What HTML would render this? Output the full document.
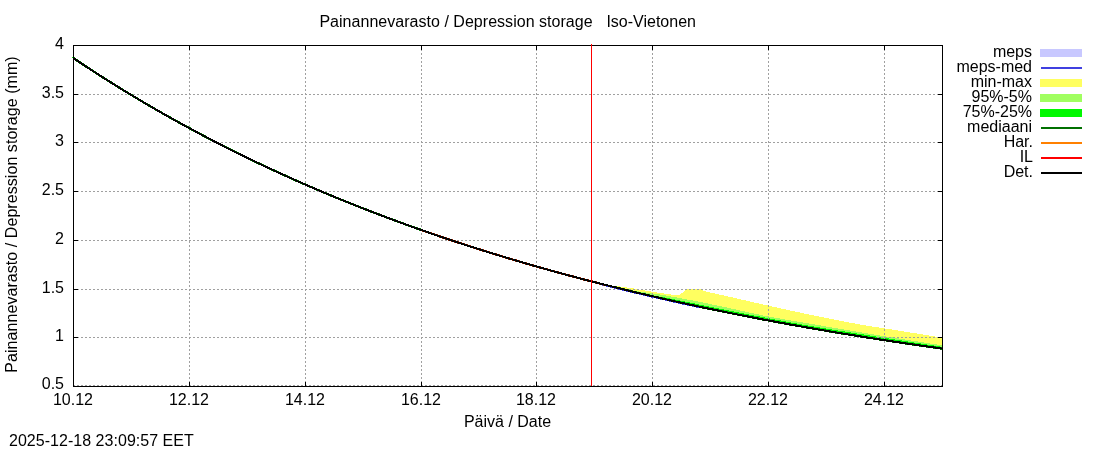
<!DOCTYPE html>
<html><head><meta charset="utf-8"><title>Painannevarasto / Depression storage Iso-Vietonen</title>
<style>html,body{margin:0;padding:0;background:#fff;}svg{display:block}</style></head>
<body><svg width="1100" height="450" viewBox="0 0 1100 450">
<rect width="1100" height="450" fill="#fff"/>
<path d="M600.0,283.57 L601.0,283.82 L602.0,284.08 L603.0,284.33 L604.0,284.58 L605.0,284.83 L606.0,285.03 L607.0,285.12 L608.0,285.22 L609.0,285.32 L610.0,285.42 L611.0,285.53 L612.0,285.64 L613.0,285.75 L614.0,285.86 L615.0,285.97 L616.0,286.09 L617.0,286.20 L618.0,286.32 L619.0,286.44 L620.0,286.56 L621.0,286.69 L622.0,286.81 L623.0,286.94 L624.0,287.07 L625.0,287.20 L626.0,287.33 L627.0,287.47 L628.0,287.62 L629.0,287.77 L630.0,287.92 L631.0,288.08 L632.0,288.24 L633.0,288.40 L634.0,288.57 L635.0,288.74 L636.0,288.91 L637.0,289.09 L638.0,289.27 L639.0,289.44 L640.0,289.62 L641.0,289.80 L642.0,289.98 L643.0,290.16 L644.0,290.34 L645.0,290.51 L646.0,290.69 L647.0,290.86 L648.0,291.04 L649.0,291.21 L650.0,291.37 L651.0,291.54 L652.0,291.70 L653.0,291.86 L654.0,292.02 L655.0,292.19 L656.0,292.35 L657.0,292.52 L658.0,292.68 L659.0,292.84 L660.0,293.00 L661.0,293.15 L662.0,293.30 L663.0,293.44 L664.0,293.57 L665.0,293.70 L666.0,293.83 L667.0,293.96 L668.0,294.09 L669.0,294.23 L670.0,294.36 L671.0,294.49 L672.0,294.61 L673.0,294.71 L674.0,294.81 L675.0,294.89 L676.0,294.95 L677.0,294.99 L678.0,295.00 L679.0,294.85 L680.0,294.44 L681.0,293.83 L682.0,293.09 L683.0,292.27 L684.0,291.46 L685.0,290.70 L686.0,290.06 L687.0,289.60 L688.0,289.40 L689.0,289.34 L690.0,289.30 L691.0,289.26 L692.0,289.23 L693.0,289.21 L694.0,289.20 L695.0,289.20 L696.0,289.21 L697.0,289.22 L698.0,289.24 L699.0,289.27 L700.0,289.30 L701.0,289.58 L702.0,290.12 L703.0,290.60 L704.0,290.93 L705.0,291.22 L706.0,291.50 L707.0,291.75 L708.0,292.00 L709.0,292.24 L710.0,292.46 L711.0,292.67 L712.0,292.88 L713.0,293.08 L714.0,293.30 L715.0,293.52 L716.0,293.75 L717.0,293.97 L718.0,294.20 L719.0,294.43 L720.0,294.66 L721.0,294.89 L722.0,295.12 L723.0,295.35 L724.0,295.58 L725.0,295.80 L726.0,296.02 L727.0,296.24 L728.0,296.46 L729.0,296.68 L730.0,296.90 L731.0,297.12 L732.0,297.35 L733.0,297.57 L734.0,297.80 L735.0,298.03 L736.0,298.25 L737.0,298.48 L738.0,298.71 L739.0,298.94 L740.0,299.17 L741.0,299.40 L742.0,299.63 L743.0,299.86 L744.0,300.09 L745.0,300.32 L746.0,300.56 L747.0,300.79 L748.0,301.02 L749.0,301.25 L750.0,301.48 L751.0,301.72 L752.0,301.95 L753.0,302.18 L754.0,302.41 L755.0,302.64 L756.0,302.87 L757.0,303.10 L758.0,303.33 L759.0,303.56 L760.0,303.79 L761.0,304.02 L762.0,304.25 L763.0,304.48 L764.0,304.70 L765.0,304.93 L766.0,305.15 L767.0,305.38 L768.0,305.60 L769.0,305.82 L770.0,306.05 L771.0,306.27 L772.0,306.49 L773.0,306.71 L774.0,306.94 L775.0,307.16 L776.0,307.38 L777.0,307.60 L778.0,307.82 L779.0,308.04 L780.0,308.26 L781.0,308.49 L782.0,308.71 L783.0,308.93 L784.0,309.14 L785.0,309.36 L786.0,309.58 L787.0,309.80 L788.0,310.02 L789.0,310.23 L790.0,310.45 L791.0,310.67 L792.0,310.88 L793.0,311.10 L794.0,311.31 L795.0,311.52 L796.0,311.74 L797.0,311.95 L798.0,312.16 L799.0,312.37 L800.0,312.58 L801.0,312.79 L802.0,312.99 L803.0,313.20 L804.0,313.41 L805.0,313.61 L806.0,313.82 L807.0,314.03 L808.0,314.23 L809.0,314.44 L810.0,314.65 L811.0,314.85 L812.0,315.06 L813.0,315.27 L814.0,315.47 L815.0,315.68 L816.0,315.89 L817.0,316.09 L818.0,316.30 L819.0,316.50 L820.0,316.71 L821.0,316.91 L822.0,317.12 L823.0,317.32 L824.0,317.53 L825.0,317.73 L826.0,317.94 L827.0,318.14 L828.0,318.34 L829.0,318.55 L830.0,318.75 L831.0,318.95 L832.0,319.15 L833.0,319.35 L834.0,319.55 L835.0,319.75 L836.0,319.95 L837.0,320.15 L838.0,320.35 L839.0,320.54 L840.0,320.74 L841.0,320.94 L842.0,321.13 L843.0,321.33 L844.0,321.52 L845.0,321.71 L846.0,321.90 L847.0,322.09 L848.0,322.29 L849.0,322.47 L850.0,322.66 L851.0,322.85 L852.0,323.04 L853.0,323.22 L854.0,323.41 L855.0,323.59 L856.0,323.77 L857.0,323.95 L858.0,324.13 L859.0,324.31 L860.0,324.49 L861.0,324.67 L862.0,324.84 L863.0,325.02 L864.0,325.19 L865.0,325.36 L866.0,325.53 L867.0,325.70 L868.0,325.87 L869.0,326.03 L870.0,326.20 L871.0,326.36 L872.0,326.52 L873.0,326.67 L874.0,326.82 L875.0,326.97 L876.0,327.11 L877.0,327.26 L878.0,327.40 L879.0,327.55 L880.0,327.70 L881.0,327.85 L882.0,328.00 L883.0,328.16 L884.0,328.31 L885.0,328.47 L886.0,328.62 L887.0,328.78 L888.0,328.93 L889.0,329.09 L890.0,329.25 L891.0,329.40 L892.0,329.56 L893.0,329.72 L894.0,329.87 L895.0,330.03 L896.0,330.19 L897.0,330.35 L898.0,330.51 L899.0,330.66 L900.0,330.82 L901.0,330.98 L902.0,331.14 L903.0,331.30 L904.0,331.46 L905.0,331.62 L906.0,331.78 L907.0,331.94 L908.0,332.11 L909.0,332.27 L910.0,332.43 L911.0,332.59 L912.0,332.75 L913.0,332.92 L914.0,333.08 L915.0,333.24 L916.0,333.41 L917.0,333.57 L918.0,333.74 L919.0,333.90 L920.0,334.07 L921.0,334.23 L922.0,334.40 L923.0,334.56 L924.0,334.73 L925.0,334.90 L926.0,335.06 L927.0,335.23 L928.0,335.40 L929.0,335.57 L930.0,335.74 L931.0,335.91 L932.0,336.08 L933.0,336.25 L934.0,336.42 L935.0,336.59 L936.0,336.76 L937.0,336.93 L938.0,337.11 L939.0,337.28 L940.0,337.45 L941.0,337.63 L942.0,337.80 L942.0,349.57 L941.0,349.43 L940.0,349.29 L939.0,349.15 L938.0,349.01 L937.0,348.87 L936.0,348.73 L935.0,348.59 L934.0,348.45 L933.0,348.31 L932.0,348.17 L931.0,348.03 L930.0,347.89 L929.0,347.75 L928.0,347.61 L927.0,347.46 L926.0,347.32 L925.0,347.18 L924.0,347.04 L923.0,346.89 L922.0,346.75 L921.0,346.61 L920.0,346.46 L919.0,346.32 L918.0,346.17 L917.0,346.03 L916.0,345.88 L915.0,345.74 L914.0,345.59 L913.0,345.45 L912.0,345.30 L911.0,345.16 L910.0,345.01 L909.0,344.86 L908.0,344.72 L907.0,344.57 L906.0,344.42 L905.0,344.27 L904.0,344.13 L903.0,343.98 L902.0,343.83 L901.0,343.68 L900.0,343.53 L899.0,343.38 L898.0,343.23 L897.0,343.08 L896.0,342.93 L895.0,342.78 L894.0,342.63 L893.0,342.48 L892.0,342.33 L891.0,342.18 L890.0,342.03 L889.0,341.88 L888.0,341.72 L887.0,341.57 L886.0,341.42 L885.0,341.27 L884.0,341.11 L883.0,340.96 L882.0,340.81 L881.0,340.65 L880.0,340.50 L879.0,340.34 L878.0,340.19 L877.0,340.03 L876.0,339.88 L875.0,339.72 L874.0,339.57 L873.0,339.41 L872.0,339.25 L871.0,339.10 L870.0,338.94 L869.0,338.78 L868.0,338.63 L867.0,338.47 L866.0,338.31 L865.0,338.15 L864.0,337.99 L863.0,337.83 L862.0,337.67 L861.0,337.52 L860.0,337.36 L859.0,337.20 L858.0,337.04 L857.0,336.87 L856.0,336.71 L855.0,336.55 L854.0,336.39 L853.0,336.23 L852.0,336.07 L851.0,335.91 L850.0,335.74 L849.0,335.58 L848.0,335.42 L847.0,335.25 L846.0,335.09 L845.0,334.93 L844.0,334.76 L843.0,334.60 L842.0,334.43 L841.0,334.27 L840.0,334.10 L839.0,333.94 L838.0,333.77 L837.0,333.60 L836.0,333.44 L835.0,333.27 L834.0,333.10 L833.0,332.94 L832.0,332.77 L831.0,332.60 L830.0,332.43 L829.0,332.26 L828.0,332.09 L827.0,331.92 L826.0,331.75 L825.0,331.58 L824.0,331.41 L823.0,331.24 L822.0,331.07 L821.0,330.90 L820.0,330.73 L819.0,330.56 L818.0,330.39 L817.0,330.22 L816.0,330.04 L815.0,329.87 L814.0,329.70 L813.0,329.52 L812.0,329.35 L811.0,329.18 L810.0,329.00 L809.0,328.83 L808.0,328.65 L807.0,328.48 L806.0,328.30 L805.0,328.12 L804.0,327.95 L803.0,327.77 L802.0,327.59 L801.0,327.42 L800.0,327.24 L799.0,327.06 L798.0,326.88 L797.0,326.71 L796.0,326.53 L795.0,326.35 L794.0,326.17 L793.0,325.99 L792.0,325.81 L791.0,325.63 L790.0,325.45 L789.0,325.27 L788.0,325.08 L787.0,324.90 L786.0,324.72 L785.0,324.54 L784.0,324.36 L783.0,324.17 L782.0,323.99 L781.0,323.81 L780.0,323.62 L779.0,323.44 L778.0,323.25 L777.0,323.07 L776.0,322.88 L775.0,322.70 L774.0,322.51 L773.0,322.33 L772.0,322.14 L771.0,321.95 L770.0,321.77 L769.0,321.58 L768.0,321.39 L767.0,321.20 L766.0,321.01 L765.0,320.83 L764.0,320.64 L763.0,320.45 L762.0,320.26 L761.0,320.07 L760.0,319.88 L759.0,319.69 L758.0,319.49 L757.0,319.30 L756.0,319.11 L755.0,318.92 L754.0,318.73 L753.0,318.53 L752.0,318.34 L751.0,318.15 L750.0,317.95 L749.0,317.76 L748.0,317.56 L747.0,317.37 L746.0,317.17 L745.0,316.98 L744.0,316.78 L743.0,316.58 L742.0,316.39 L741.0,316.19 L740.0,315.99 L739.0,315.80 L738.0,315.60 L737.0,315.40 L736.0,315.20 L735.0,315.00 L734.0,314.80 L733.0,314.60 L732.0,314.40 L731.0,314.20 L730.0,314.00 L729.0,313.80 L728.0,313.60 L727.0,313.40 L726.0,313.19 L725.0,312.99 L724.0,312.79 L723.0,312.58 L722.0,312.38 L721.0,312.18 L720.0,311.97 L719.0,311.77 L718.0,311.56 L717.0,311.36 L716.0,311.15 L715.0,310.94 L714.0,310.74 L713.0,310.53 L712.0,310.32 L711.0,310.11 L710.0,309.91 L709.0,309.70 L708.0,309.49 L707.0,309.28 L706.0,309.07 L705.0,308.86 L704.0,308.65 L703.0,308.44 L702.0,308.23 L701.0,308.02 L700.0,307.80 L699.0,307.59 L698.0,307.38 L697.0,307.16 L696.0,306.95 L695.0,306.74 L694.0,306.52 L693.0,306.31 L692.0,306.09 L691.0,305.88 L690.0,305.66 L689.0,305.45 L688.0,305.23 L687.0,305.01 L686.0,304.80 L685.0,304.58 L684.0,304.36 L683.0,304.14 L682.0,303.92 L681.0,303.70 L680.0,303.48 L679.0,303.26 L678.0,303.04 L677.0,302.82 L676.0,302.60 L675.0,302.38 L674.0,302.16 L673.0,301.93 L672.0,301.71 L671.0,301.49 L670.0,301.27 L669.0,301.04 L668.0,300.82 L667.0,300.59 L666.0,300.37 L665.0,300.14 L664.0,299.91 L663.0,299.69 L662.0,299.46 L661.0,299.23 L660.0,299.01 L659.0,298.78 L658.0,298.55 L657.0,298.32 L656.0,298.09 L655.0,297.86 L654.0,297.63 L653.0,297.40 L652.0,297.17 L651.0,296.94 L650.0,296.71 L649.0,296.48 L648.0,296.24 L647.0,296.01 L646.0,295.78 L645.0,295.54 L644.0,295.31 L643.0,295.07 L642.0,294.84 L641.0,294.60 L640.0,294.37 L639.0,294.13 L638.0,293.89 L637.0,293.66 L636.0,293.42 L635.0,293.18 L634.0,292.94 L633.0,292.70 L632.0,292.46 L631.0,292.22 L630.0,291.98 L629.0,291.74 L628.0,291.50 L627.0,291.26 L626.0,291.02 L625.0,290.78 L624.0,290.53 L623.0,290.29 L622.0,290.05 L621.0,289.80 L620.0,289.56 L619.0,289.31 L618.0,289.07 L617.0,288.82 L616.0,288.57 L615.0,288.33 L614.0,288.08 L613.0,287.83 L612.0,287.58 L611.0,287.34 L610.0,287.09 L609.0,286.84 L608.0,286.59 L607.0,286.34 L606.0,286.09 L605.0,285.83 L604.0,285.58 L603.0,285.33 L602.0,285.08 L601.0,284.82 L600.0,284.57Z" fill="#ffff60" shape-rendering="crispEdges"/><path d="M620.0,288.56 L621.0,288.80 L622.0,289.05 L623.0,289.29 L624.0,289.53 L625.0,289.78 L626.0,290.02 L627.0,290.19 L628.0,290.30 L629.0,290.41 L630.0,290.52 L631.0,290.63 L632.0,290.74 L633.0,290.85 L634.0,290.97 L635.0,291.09 L636.0,291.21 L637.0,291.33 L638.0,291.45 L639.0,291.57 L640.0,291.70 L641.0,291.82 L642.0,291.95 L643.0,292.08 L644.0,292.21 L645.0,292.34 L646.0,292.47 L647.0,292.61 L648.0,292.74 L649.0,292.88 L650.0,293.02 L651.0,293.16 L652.0,293.30 L653.0,293.44 L654.0,293.59 L655.0,293.74 L656.0,293.89 L657.0,294.04 L658.0,294.20 L659.0,294.36 L660.0,294.52 L661.0,294.68 L662.0,294.85 L663.0,295.01 L664.0,295.18 L665.0,295.35 L666.0,295.53 L667.0,295.70 L668.0,295.88 L669.0,296.06 L670.0,296.24 L671.0,296.42 L672.0,296.60 L673.0,296.79 L674.0,296.97 L675.0,297.16 L676.0,297.34 L677.0,297.53 L678.0,297.72 L679.0,297.91 L680.0,298.10 L681.0,298.29 L682.0,298.48 L683.0,298.67 L684.0,298.86 L685.0,299.05 L686.0,299.24 L687.0,299.43 L688.0,299.62 L689.0,299.81 L690.0,300.00 L691.0,300.19 L692.0,300.38 L693.0,300.58 L694.0,300.77 L695.0,300.96 L696.0,301.16 L697.0,301.36 L698.0,301.56 L699.0,301.76 L700.0,301.96 L701.0,302.16 L702.0,302.36 L703.0,302.57 L704.0,302.77 L705.0,302.98 L706.0,303.18 L707.0,303.39 L708.0,303.60 L709.0,303.80 L710.0,304.01 L711.0,304.22 L712.0,304.43 L713.0,304.64 L714.0,304.85 L715.0,305.06 L716.0,305.27 L717.0,305.48 L718.0,305.69 L719.0,305.90 L720.0,306.11 L721.0,306.32 L722.0,306.54 L723.0,306.75 L724.0,306.96 L725.0,307.17 L726.0,307.38 L727.0,307.59 L728.0,307.80 L729.0,308.01 L730.0,308.22 L731.0,308.44 L732.0,308.65 L733.0,308.87 L734.0,309.09 L735.0,309.30 L736.0,309.52 L737.0,309.74 L738.0,309.96 L739.0,310.19 L740.0,310.41 L741.0,310.63 L742.0,310.85 L743.0,311.08 L744.0,311.30 L745.0,311.52 L746.0,311.74 L747.0,311.97 L748.0,312.19 L749.0,312.41 L750.0,312.63 L751.0,312.85 L752.0,313.07 L753.0,313.29 L754.0,313.51 L755.0,313.73 L756.0,313.94 L757.0,314.16 L758.0,314.37 L759.0,314.58 L760.0,314.79 L761.0,315.00 L762.0,315.21 L763.0,315.41 L764.0,315.61 L765.0,315.81 L766.0,316.01 L767.0,316.21 L768.0,316.40 L769.0,316.59 L770.0,316.78 L771.0,316.97 L772.0,317.15 L773.0,317.34 L774.0,317.52 L775.0,317.70 L776.0,317.88 L777.0,318.06 L778.0,318.24 L779.0,318.42 L780.0,318.59 L781.0,318.77 L782.0,318.94 L783.0,319.11 L784.0,319.28 L785.0,319.45 L786.0,319.62 L787.0,319.79 L788.0,319.96 L789.0,320.13 L790.0,320.30 L791.0,320.47 L792.0,320.64 L793.0,320.81 L794.0,320.98 L795.0,321.14 L796.0,321.31 L797.0,321.48 L798.0,321.65 L799.0,321.82 L800.0,321.99 L801.0,322.16 L802.0,322.33 L803.0,322.50 L804.0,322.67 L805.0,322.84 L806.0,323.01 L807.0,323.19 L808.0,323.36 L809.0,323.53 L810.0,323.70 L811.0,323.87 L812.0,324.04 L813.0,324.21 L814.0,324.39 L815.0,324.56 L816.0,324.73 L817.0,324.90 L818.0,325.07 L819.0,325.24 L820.0,325.41 L821.0,325.58 L822.0,325.75 L823.0,325.92 L824.0,326.09 L825.0,326.27 L826.0,326.44 L827.0,326.61 L828.0,326.78 L829.0,326.95 L830.0,327.12 L831.0,327.29 L832.0,327.46 L833.0,327.63 L834.0,327.80 L835.0,327.97 L836.0,328.14 L837.0,328.31 L838.0,328.47 L839.0,328.64 L840.0,328.81 L841.0,328.98 L842.0,329.15 L843.0,329.32 L844.0,329.49 L845.0,329.66 L846.0,329.83 L847.0,329.99 L848.0,330.16 L849.0,330.33 L850.0,330.50 L851.0,330.67 L852.0,330.83 L853.0,331.00 L854.0,331.17 L855.0,331.34 L856.0,331.50 L857.0,331.67 L858.0,331.84 L859.0,332.01 L860.0,332.17 L861.0,332.34 L862.0,332.51 L863.0,332.67 L864.0,332.84 L865.0,333.00 L866.0,333.17 L867.0,333.34 L868.0,333.50 L869.0,333.67 L870.0,333.83 L871.0,334.00 L872.0,334.16 L873.0,334.33 L874.0,334.49 L875.0,334.65 L876.0,334.82 L877.0,334.98 L878.0,335.15 L879.0,335.31 L880.0,335.47 L881.0,335.64 L882.0,335.80 L883.0,335.96 L884.0,336.13 L885.0,336.29 L886.0,336.45 L887.0,336.61 L888.0,336.77 L889.0,336.94 L890.0,337.10 L891.0,337.26 L892.0,337.42 L893.0,337.58 L894.0,337.74 L895.0,337.90 L896.0,338.07 L897.0,338.23 L898.0,338.39 L899.0,338.55 L900.0,338.71 L901.0,338.87 L902.0,339.03 L903.0,339.19 L904.0,339.35 L905.0,339.51 L906.0,339.66 L907.0,339.82 L908.0,339.98 L909.0,340.14 L910.0,340.30 L911.0,340.46 L912.0,340.62 L913.0,340.78 L914.0,340.93 L915.0,341.09 L916.0,341.25 L917.0,341.41 L918.0,341.56 L919.0,341.72 L920.0,341.88 L921.0,342.04 L922.0,342.19 L923.0,342.35 L924.0,342.51 L925.0,342.66 L926.0,342.82 L927.0,342.97 L928.0,343.13 L929.0,343.29 L930.0,343.44 L931.0,343.60 L932.0,343.75 L933.0,343.91 L934.0,344.06 L935.0,344.22 L936.0,344.37 L937.0,344.53 L938.0,344.68 L939.0,344.84 L940.0,344.99 L941.0,345.15 L942.0,345.30 L942.0,349.57 L941.0,349.43 L940.0,349.29 L939.0,349.15 L938.0,349.01 L937.0,348.87 L936.0,348.73 L935.0,348.59 L934.0,348.45 L933.0,348.31 L932.0,348.17 L931.0,348.03 L930.0,347.89 L929.0,347.75 L928.0,347.61 L927.0,347.46 L926.0,347.32 L925.0,347.18 L924.0,347.04 L923.0,346.89 L922.0,346.75 L921.0,346.61 L920.0,346.46 L919.0,346.32 L918.0,346.17 L917.0,346.03 L916.0,345.88 L915.0,345.74 L914.0,345.59 L913.0,345.45 L912.0,345.30 L911.0,345.16 L910.0,345.01 L909.0,344.86 L908.0,344.72 L907.0,344.57 L906.0,344.42 L905.0,344.27 L904.0,344.13 L903.0,343.98 L902.0,343.83 L901.0,343.68 L900.0,343.53 L899.0,343.38 L898.0,343.23 L897.0,343.08 L896.0,342.93 L895.0,342.78 L894.0,342.63 L893.0,342.48 L892.0,342.33 L891.0,342.18 L890.0,342.03 L889.0,341.88 L888.0,341.72 L887.0,341.57 L886.0,341.42 L885.0,341.27 L884.0,341.11 L883.0,340.96 L882.0,340.81 L881.0,340.65 L880.0,340.50 L879.0,340.34 L878.0,340.19 L877.0,340.03 L876.0,339.88 L875.0,339.72 L874.0,339.57 L873.0,339.41 L872.0,339.25 L871.0,339.10 L870.0,338.94 L869.0,338.78 L868.0,338.63 L867.0,338.47 L866.0,338.31 L865.0,338.15 L864.0,337.99 L863.0,337.83 L862.0,337.67 L861.0,337.52 L860.0,337.36 L859.0,337.20 L858.0,337.04 L857.0,336.87 L856.0,336.71 L855.0,336.55 L854.0,336.39 L853.0,336.23 L852.0,336.07 L851.0,335.91 L850.0,335.74 L849.0,335.58 L848.0,335.42 L847.0,335.25 L846.0,335.09 L845.0,334.93 L844.0,334.76 L843.0,334.60 L842.0,334.43 L841.0,334.27 L840.0,334.10 L839.0,333.94 L838.0,333.77 L837.0,333.60 L836.0,333.44 L835.0,333.27 L834.0,333.10 L833.0,332.94 L832.0,332.77 L831.0,332.60 L830.0,332.43 L829.0,332.26 L828.0,332.09 L827.0,331.92 L826.0,331.75 L825.0,331.58 L824.0,331.41 L823.0,331.24 L822.0,331.07 L821.0,330.90 L820.0,330.73 L819.0,330.56 L818.0,330.39 L817.0,330.22 L816.0,330.04 L815.0,329.87 L814.0,329.70 L813.0,329.52 L812.0,329.35 L811.0,329.18 L810.0,329.00 L809.0,328.83 L808.0,328.65 L807.0,328.48 L806.0,328.30 L805.0,328.12 L804.0,327.95 L803.0,327.77 L802.0,327.59 L801.0,327.42 L800.0,327.24 L799.0,327.06 L798.0,326.88 L797.0,326.71 L796.0,326.53 L795.0,326.35 L794.0,326.17 L793.0,325.99 L792.0,325.81 L791.0,325.63 L790.0,325.45 L789.0,325.27 L788.0,325.08 L787.0,324.90 L786.0,324.72 L785.0,324.54 L784.0,324.36 L783.0,324.17 L782.0,323.99 L781.0,323.81 L780.0,323.62 L779.0,323.44 L778.0,323.25 L777.0,323.07 L776.0,322.88 L775.0,322.70 L774.0,322.51 L773.0,322.33 L772.0,322.14 L771.0,321.95 L770.0,321.77 L769.0,321.58 L768.0,321.39 L767.0,321.20 L766.0,321.01 L765.0,320.83 L764.0,320.64 L763.0,320.45 L762.0,320.26 L761.0,320.07 L760.0,319.88 L759.0,319.69 L758.0,319.49 L757.0,319.30 L756.0,319.11 L755.0,318.92 L754.0,318.73 L753.0,318.53 L752.0,318.34 L751.0,318.15 L750.0,317.95 L749.0,317.76 L748.0,317.56 L747.0,317.37 L746.0,317.17 L745.0,316.98 L744.0,316.78 L743.0,316.58 L742.0,316.39 L741.0,316.19 L740.0,315.99 L739.0,315.80 L738.0,315.60 L737.0,315.40 L736.0,315.20 L735.0,315.00 L734.0,314.80 L733.0,314.60 L732.0,314.40 L731.0,314.20 L730.0,314.00 L729.0,313.80 L728.0,313.60 L727.0,313.40 L726.0,313.19 L725.0,312.99 L724.0,312.79 L723.0,312.58 L722.0,312.38 L721.0,312.18 L720.0,311.97 L719.0,311.77 L718.0,311.56 L717.0,311.36 L716.0,311.15 L715.0,310.94 L714.0,310.74 L713.0,310.53 L712.0,310.32 L711.0,310.11 L710.0,309.91 L709.0,309.70 L708.0,309.49 L707.0,309.28 L706.0,309.07 L705.0,308.86 L704.0,308.65 L703.0,308.44 L702.0,308.23 L701.0,308.02 L700.0,307.80 L699.0,307.59 L698.0,307.38 L697.0,307.16 L696.0,306.95 L695.0,306.74 L694.0,306.52 L693.0,306.31 L692.0,306.09 L691.0,305.88 L690.0,305.66 L689.0,305.45 L688.0,305.23 L687.0,305.01 L686.0,304.80 L685.0,304.58 L684.0,304.36 L683.0,304.14 L682.0,303.92 L681.0,303.70 L680.0,303.48 L679.0,303.26 L678.0,303.04 L677.0,302.82 L676.0,302.60 L675.0,302.38 L674.0,302.16 L673.0,301.93 L672.0,301.71 L671.0,301.49 L670.0,301.27 L669.0,301.04 L668.0,300.82 L667.0,300.59 L666.0,300.37 L665.0,300.14 L664.0,299.91 L663.0,299.69 L662.0,299.46 L661.0,299.23 L660.0,299.01 L659.0,298.78 L658.0,298.55 L657.0,298.32 L656.0,298.09 L655.0,297.86 L654.0,297.63 L653.0,297.40 L652.0,297.17 L651.0,296.94 L650.0,296.71 L649.0,296.48 L648.0,296.24 L647.0,296.01 L646.0,295.78 L645.0,295.54 L644.0,295.31 L643.0,295.07 L642.0,294.84 L641.0,294.60 L640.0,294.37 L639.0,294.13 L638.0,293.89 L637.0,293.66 L636.0,293.42 L635.0,293.18 L634.0,292.94 L633.0,292.70 L632.0,292.46 L631.0,292.22 L630.0,291.98 L629.0,291.74 L628.0,291.50 L627.0,291.26 L626.0,291.02 L625.0,290.78 L624.0,290.53 L623.0,290.29 L622.0,290.05 L621.0,289.80 L620.0,289.56Z" fill="#a0ff60" shape-rendering="crispEdges"/><path d="M640.0,293.20 L641.0,293.36 L642.0,293.53 L643.0,293.69 L644.0,293.85 L645.0,294.02 L646.0,294.18 L647.0,294.35 L648.0,294.51 L649.0,294.68 L650.0,294.85 L651.0,295.02 L652.0,295.19 L653.0,295.36 L654.0,295.53 L655.0,295.71 L656.0,295.88 L657.0,296.06 L658.0,296.24 L659.0,296.42 L660.0,296.60 L661.0,296.78 L662.0,296.97 L663.0,297.15 L664.0,297.34 L665.0,297.53 L666.0,297.72 L667.0,297.91 L668.0,298.10 L669.0,298.29 L670.0,298.49 L671.0,298.68 L672.0,298.88 L673.0,299.08 L674.0,299.28 L675.0,299.48 L676.0,299.68 L677.0,299.88 L678.0,300.08 L679.0,300.28 L680.0,300.49 L681.0,300.69 L682.0,300.89 L683.0,301.10 L684.0,301.31 L685.0,301.51 L686.0,301.72 L687.0,301.93 L688.0,302.13 L689.0,302.34 L690.0,302.55 L691.0,302.76 L692.0,302.97 L693.0,303.18 L694.0,303.39 L695.0,303.60 L696.0,303.81 L697.0,304.02 L698.0,304.23 L699.0,304.44 L700.0,304.65 L701.0,304.86 L702.0,305.07 L703.0,305.28 L704.0,305.49 L705.0,305.70 L706.0,305.91 L707.0,306.12 L708.0,306.33 L709.0,306.54 L710.0,306.75 L711.0,306.95 L712.0,307.16 L713.0,307.37 L714.0,307.58 L715.0,307.78 L716.0,307.99 L717.0,308.19 L718.0,308.40 L719.0,308.60 L720.0,308.80 L721.0,309.00 L722.0,309.20 L723.0,309.40 L724.0,309.60 L725.0,309.80 L726.0,310.00 L727.0,310.19 L728.0,310.39 L729.0,310.59 L730.0,310.78 L731.0,310.98 L732.0,311.18 L733.0,311.37 L734.0,311.57 L735.0,311.76 L736.0,311.96 L737.0,312.15 L738.0,312.35 L739.0,312.54 L740.0,312.74 L741.0,312.93 L742.0,313.13 L743.0,313.32 L744.0,313.51 L745.0,313.71 L746.0,313.90 L747.0,314.09 L748.0,314.28 L749.0,314.48 L750.0,314.67 L751.0,314.86 L752.0,315.05 L753.0,315.24 L754.0,315.44 L755.0,315.63 L756.0,315.82 L757.0,316.01 L758.0,316.20 L759.0,316.39 L760.0,316.58 L761.0,316.77 L762.0,316.96 L763.0,317.15 L764.0,317.34 L765.0,317.53 L766.0,317.72 L767.0,317.91 L768.0,318.10 L769.0,318.29 L770.0,318.48 L771.0,318.67 L772.0,318.86 L773.0,319.05 L774.0,319.24 L775.0,319.43 L776.0,319.62 L777.0,319.81 L778.0,320.00 L779.0,320.19 L780.0,320.38 L781.0,320.57 L782.0,320.75 L783.0,320.94 L784.0,321.13 L785.0,321.32 L786.0,321.51 L787.0,321.69 L788.0,321.88 L789.0,322.07 L790.0,322.25 L791.0,322.44 L792.0,322.62 L793.0,322.81 L794.0,322.99 L795.0,323.17 L796.0,323.35 L797.0,323.53 L798.0,323.71 L799.0,323.89 L800.0,324.07 L801.0,324.25 L802.0,324.42 L803.0,324.60 L804.0,324.77 L805.0,324.95 L806.0,325.12 L807.0,325.29 L808.0,325.47 L809.0,325.64 L810.0,325.81 L811.0,325.98 L812.0,326.15 L813.0,326.32 L814.0,326.49 L815.0,326.66 L816.0,326.83 L817.0,326.99 L818.0,327.16 L819.0,327.33 L820.0,327.49 L821.0,327.66 L822.0,327.83 L823.0,327.99 L824.0,328.16 L825.0,328.32 L826.0,328.49 L827.0,328.65 L828.0,328.81 L829.0,328.98 L830.0,329.14 L831.0,329.30 L832.0,329.46 L833.0,329.63 L834.0,329.79 L835.0,329.95 L836.0,330.11 L837.0,330.27 L838.0,330.43 L839.0,330.59 L840.0,330.75 L841.0,330.91 L842.0,331.07 L843.0,331.23 L844.0,331.39 L845.0,331.55 L846.0,331.71 L847.0,331.87 L848.0,332.03 L849.0,332.19 L850.0,332.34 L851.0,332.50 L852.0,332.66 L853.0,332.82 L854.0,332.98 L855.0,333.13 L856.0,333.29 L857.0,333.45 L858.0,333.61 L859.0,333.77 L860.0,333.92 L861.0,334.08 L862.0,334.24 L863.0,334.40 L864.0,334.55 L865.0,334.71 L866.0,334.87 L867.0,335.03 L868.0,335.18 L869.0,335.34 L870.0,335.50 L871.0,335.66 L872.0,335.82 L873.0,335.97 L874.0,336.13 L875.0,336.29 L876.0,336.45 L877.0,336.61 L878.0,336.76 L879.0,336.92 L880.0,337.08 L881.0,337.24 L882.0,337.40 L883.0,337.56 L884.0,337.72 L885.0,337.88 L886.0,338.04 L887.0,338.19 L888.0,338.35 L889.0,338.51 L890.0,338.67 L891.0,338.83 L892.0,338.99 L893.0,339.15 L894.0,339.30 L895.0,339.46 L896.0,339.62 L897.0,339.78 L898.0,339.94 L899.0,340.09 L900.0,340.25 L901.0,340.41 L902.0,340.57 L903.0,340.72 L904.0,340.88 L905.0,341.04 L906.0,341.20 L907.0,341.35 L908.0,341.51 L909.0,341.67 L910.0,341.82 L911.0,341.98 L912.0,342.14 L913.0,342.29 L914.0,342.45 L915.0,342.61 L916.0,342.76 L917.0,342.92 L918.0,343.07 L919.0,343.23 L920.0,343.39 L921.0,343.54 L922.0,343.70 L923.0,343.85 L924.0,344.01 L925.0,344.17 L926.0,344.32 L927.0,344.48 L928.0,344.63 L929.0,344.79 L930.0,344.94 L931.0,345.10 L932.0,345.25 L933.0,345.41 L934.0,345.56 L935.0,345.72 L936.0,345.87 L937.0,346.03 L938.0,346.18 L939.0,346.34 L940.0,346.49 L941.0,346.65 L942.0,346.80 L942.0,349.57 L941.0,349.43 L940.0,349.29 L939.0,349.15 L938.0,349.01 L937.0,348.87 L936.0,348.73 L935.0,348.59 L934.0,348.45 L933.0,348.31 L932.0,348.17 L931.0,348.03 L930.0,347.89 L929.0,347.75 L928.0,347.61 L927.0,347.46 L926.0,347.32 L925.0,347.18 L924.0,347.04 L923.0,346.89 L922.0,346.75 L921.0,346.61 L920.0,346.46 L919.0,346.32 L918.0,346.17 L917.0,346.03 L916.0,345.88 L915.0,345.74 L914.0,345.59 L913.0,345.45 L912.0,345.30 L911.0,345.16 L910.0,345.01 L909.0,344.86 L908.0,344.72 L907.0,344.57 L906.0,344.42 L905.0,344.27 L904.0,344.13 L903.0,343.98 L902.0,343.83 L901.0,343.68 L900.0,343.53 L899.0,343.38 L898.0,343.23 L897.0,343.08 L896.0,342.93 L895.0,342.78 L894.0,342.63 L893.0,342.48 L892.0,342.33 L891.0,342.18 L890.0,342.03 L889.0,341.88 L888.0,341.72 L887.0,341.57 L886.0,341.42 L885.0,341.27 L884.0,341.11 L883.0,340.96 L882.0,340.81 L881.0,340.65 L880.0,340.50 L879.0,340.34 L878.0,340.19 L877.0,340.03 L876.0,339.88 L875.0,339.72 L874.0,339.57 L873.0,339.41 L872.0,339.25 L871.0,339.10 L870.0,338.94 L869.0,338.78 L868.0,338.63 L867.0,338.47 L866.0,338.31 L865.0,338.15 L864.0,337.99 L863.0,337.83 L862.0,337.67 L861.0,337.52 L860.0,337.36 L859.0,337.20 L858.0,337.04 L857.0,336.87 L856.0,336.71 L855.0,336.55 L854.0,336.39 L853.0,336.23 L852.0,336.07 L851.0,335.91 L850.0,335.74 L849.0,335.58 L848.0,335.42 L847.0,335.25 L846.0,335.09 L845.0,334.93 L844.0,334.76 L843.0,334.60 L842.0,334.43 L841.0,334.27 L840.0,334.10 L839.0,333.94 L838.0,333.77 L837.0,333.60 L836.0,333.44 L835.0,333.27 L834.0,333.10 L833.0,332.94 L832.0,332.77 L831.0,332.60 L830.0,332.43 L829.0,332.26 L828.0,332.09 L827.0,331.92 L826.0,331.75 L825.0,331.58 L824.0,331.41 L823.0,331.24 L822.0,331.07 L821.0,330.90 L820.0,330.73 L819.0,330.56 L818.0,330.39 L817.0,330.22 L816.0,330.04 L815.0,329.87 L814.0,329.70 L813.0,329.52 L812.0,329.35 L811.0,329.18 L810.0,329.00 L809.0,328.83 L808.0,328.65 L807.0,328.48 L806.0,328.30 L805.0,328.12 L804.0,327.95 L803.0,327.77 L802.0,327.59 L801.0,327.42 L800.0,327.24 L799.0,327.06 L798.0,326.88 L797.0,326.71 L796.0,326.53 L795.0,326.35 L794.0,326.17 L793.0,325.99 L792.0,325.81 L791.0,325.63 L790.0,325.45 L789.0,325.27 L788.0,325.08 L787.0,324.90 L786.0,324.72 L785.0,324.54 L784.0,324.36 L783.0,324.17 L782.0,323.99 L781.0,323.81 L780.0,323.62 L779.0,323.44 L778.0,323.25 L777.0,323.07 L776.0,322.88 L775.0,322.70 L774.0,322.51 L773.0,322.33 L772.0,322.14 L771.0,321.95 L770.0,321.77 L769.0,321.58 L768.0,321.39 L767.0,321.20 L766.0,321.01 L765.0,320.83 L764.0,320.64 L763.0,320.45 L762.0,320.26 L761.0,320.07 L760.0,319.88 L759.0,319.69 L758.0,319.49 L757.0,319.30 L756.0,319.11 L755.0,318.92 L754.0,318.73 L753.0,318.53 L752.0,318.34 L751.0,318.15 L750.0,317.95 L749.0,317.76 L748.0,317.56 L747.0,317.37 L746.0,317.17 L745.0,316.98 L744.0,316.78 L743.0,316.58 L742.0,316.39 L741.0,316.19 L740.0,315.99 L739.0,315.80 L738.0,315.60 L737.0,315.40 L736.0,315.20 L735.0,315.00 L734.0,314.80 L733.0,314.60 L732.0,314.40 L731.0,314.20 L730.0,314.00 L729.0,313.80 L728.0,313.60 L727.0,313.40 L726.0,313.19 L725.0,312.99 L724.0,312.79 L723.0,312.58 L722.0,312.38 L721.0,312.18 L720.0,311.97 L719.0,311.77 L718.0,311.56 L717.0,311.36 L716.0,311.15 L715.0,310.94 L714.0,310.74 L713.0,310.53 L712.0,310.32 L711.0,310.11 L710.0,309.91 L709.0,309.70 L708.0,309.49 L707.0,309.28 L706.0,309.07 L705.0,308.86 L704.0,308.65 L703.0,308.44 L702.0,308.23 L701.0,308.02 L700.0,307.80 L699.0,307.59 L698.0,307.38 L697.0,307.16 L696.0,306.95 L695.0,306.74 L694.0,306.52 L693.0,306.31 L692.0,306.09 L691.0,305.88 L690.0,305.66 L689.0,305.45 L688.0,305.23 L687.0,305.01 L686.0,304.80 L685.0,304.58 L684.0,304.36 L683.0,304.14 L682.0,303.92 L681.0,303.70 L680.0,303.48 L679.0,303.26 L678.0,303.04 L677.0,302.82 L676.0,302.60 L675.0,302.38 L674.0,302.16 L673.0,301.93 L672.0,301.71 L671.0,301.49 L670.0,301.27 L669.0,301.04 L668.0,300.82 L667.0,300.59 L666.0,300.37 L665.0,300.14 L664.0,299.91 L663.0,299.69 L662.0,299.46 L661.0,299.23 L660.0,299.01 L659.0,298.78 L658.0,298.55 L657.0,298.32 L656.0,298.09 L655.0,297.86 L654.0,297.63 L653.0,297.40 L652.0,297.17 L651.0,296.94 L650.0,296.71 L649.0,296.48 L648.0,296.24 L647.0,296.01 L646.0,295.78 L645.0,295.54 L644.0,295.31 L643.0,295.07 L642.0,294.84 L641.0,294.60 L640.0,294.37Z" fill="#00f800" shape-rendering="crispEdges"/>
<g stroke="#a0a0a0" stroke-width="1" stroke-dasharray="2 2" shape-rendering="crispEdges"><line x1="73" y1="94.5" x2="942" y2="94.5"/><line x1="73" y1="142.5" x2="942" y2="142.5"/><line x1="73" y1="191.5" x2="942" y2="191.5"/><line x1="73" y1="240.5" x2="942" y2="240.5"/><line x1="73" y1="289.5" x2="942" y2="289.5"/><line x1="73" y1="337.5" x2="942" y2="337.5"/><line x1="73" y1="385.5" x2="942" y2="385.5"/><line x1="189.5" y1="45" x2="189.5" y2="387"/><line x1="305.5" y1="45" x2="305.5" y2="387"/><line x1="421.5" y1="45" x2="421.5" y2="387"/><line x1="536.5" y1="45" x2="536.5" y2="387"/><line x1="652.5" y1="45" x2="652.5" y2="387"/><line x1="768.5" y1="45" x2="768.5" y2="387"/><line x1="884.5" y1="45" x2="884.5" y2="387"/></g>
<g fill="none" stroke-linejoin="round" shape-rendering="crispEdges">
<path d="M73.0,57.81 L74.0,58.48 L75.0,59.15 L76.0,59.82 L77.0,60.49 L78.0,61.16 L79.0,61.83 L80.0,62.49 L81.0,63.16 L82.0,63.82 L83.0,64.48 L84.0,65.14 L85.0,65.80 L86.0,66.46 L87.0,67.12 L88.0,67.78 L89.0,68.43 L90.0,69.08 L91.0,69.73 L92.0,70.39 L93.0,71.04 L94.0,71.68 L95.0,72.33 L96.0,72.98 L97.0,73.62 L98.0,74.26 L99.0,74.91 L100.0,75.55 L101.0,76.19 L102.0,76.83 L103.0,77.46 L104.0,78.10 L105.0,78.73 L106.0,79.37 L107.0,80.00 L108.0,80.63 L109.0,81.26 L110.0,81.89 L111.0,82.52 L112.0,83.15 L113.0,83.77 L114.0,84.39 L115.0,85.02 L116.0,85.64 L117.0,86.26 L118.0,86.88 L119.0,87.50 L120.0,88.12 L121.0,88.73 L122.0,89.35 L123.0,89.96 L124.0,90.57 L125.0,91.18 L126.0,91.79 L127.0,92.40 L128.0,93.01 L129.0,93.62 L130.0,94.22 L131.0,94.83 L132.0,95.43 L133.0,96.03 L134.0,96.63 L135.0,97.23 L136.0,97.83 L137.0,98.43 L138.0,99.03 L139.0,99.62 L140.0,100.22 L141.0,100.81 L142.0,101.40 L143.0,101.99 L144.0,102.58 L145.0,103.17 L146.0,103.76 L147.0,104.34 L148.0,104.93 L149.0,105.51 L150.0,106.10 L151.0,106.68 L152.0,107.26 L153.0,107.84 L154.0,108.42 L155.0,108.99 L156.0,109.57 L157.0,110.15 L158.0,110.72 L159.0,111.29 L160.0,111.87 L161.0,112.44 L162.0,113.01 L163.0,113.58 L164.0,114.14 L165.0,114.71 L166.0,115.28 L167.0,115.84 L168.0,116.40 L169.0,116.97 L170.0,117.53 L171.0,118.09 L172.0,118.65 L173.0,119.21 L174.0,119.76 L175.0,120.32 L176.0,120.87 L177.0,121.43 L178.0,121.98 L179.0,122.53 L180.0,123.09 L181.0,123.63 L182.0,124.18 L183.0,124.73 L184.0,125.28 L185.0,125.82 L186.0,126.37 L187.0,126.91 L188.0,127.46 L189.0,128.00 L190.0,128.54 L191.0,129.08 L192.0,129.62 L193.0,130.15 L194.0,130.69 L195.0,131.23 L196.0,131.76 L197.0,132.29 L198.0,132.83 L199.0,133.36 L200.0,133.89 L201.0,134.42 L202.0,134.95 L203.0,135.48 L204.0,136.00 L205.0,136.53 L206.0,137.05 L207.0,137.58 L208.0,138.10 L209.0,138.62 L210.0,139.14 L211.0,139.66 L212.0,140.18 L213.0,140.70 L214.0,141.21 L215.0,141.73 L216.0,142.25 L217.0,142.76 L218.0,143.27 L219.0,143.78 L220.0,144.30 L221.0,144.81 L222.0,145.31 L223.0,145.82 L224.0,146.33 L225.0,146.84 L226.0,147.34 L227.0,147.85 L228.0,148.35 L229.0,148.85 L230.0,149.35 L231.0,149.85 L232.0,150.35 L233.0,150.85 L234.0,151.35 L235.0,151.85 L236.0,152.34 L237.0,152.84 L238.0,153.33 L239.0,153.83 L240.0,154.32 L241.0,154.81 L242.0,155.30 L243.0,155.79 L244.0,156.28 L245.0,156.76 L246.0,157.25 L247.0,157.74 L248.0,158.22 L249.0,158.71 L250.0,159.19 L251.0,159.67 L252.0,160.15 L253.0,160.63 L254.0,161.11 L255.0,161.59 L256.0,162.07 L257.0,162.55 L258.0,163.02 L259.0,163.50 L260.0,163.97 L261.0,164.44 L262.0,164.92 L263.0,165.39 L264.0,165.86 L265.0,166.33 L266.0,166.80 L267.0,167.27 L268.0,167.73 L269.0,168.20 L270.0,168.66 L271.0,169.13 L272.0,169.59 L273.0,170.06 L274.0,170.52 L275.0,170.98 L276.0,171.44 L277.0,171.90 L278.0,172.36 L279.0,172.81 L280.0,173.27 L281.0,173.73 L282.0,174.18 L283.0,174.64 L284.0,175.09 L285.0,175.54 L286.0,175.99 L287.0,176.45 L288.0,176.90 L289.0,177.34 L290.0,177.79 L291.0,178.24 L292.0,178.69 L293.0,179.13 L294.0,179.58 L295.0,180.02 L296.0,180.47 L297.0,180.91 L298.0,181.35 L299.0,181.79 L300.0,182.23 L301.0,182.67 L302.0,183.11 L303.0,183.55 L304.0,183.98 L305.0,184.42 L306.0,184.85 L307.0,185.29 L308.0,185.72 L309.0,186.16 L310.0,186.59 L311.0,187.02 L312.0,187.45 L313.0,187.88 L314.0,188.31 L315.0,188.74 L316.0,189.16 L317.0,189.59 L318.0,190.01 L319.0,190.44 L320.0,190.86 L321.0,191.29 L322.0,191.71 L323.0,192.13 L324.0,192.55 L325.0,192.97 L326.0,193.39 L327.0,193.81 L328.0,194.23 L329.0,194.64 L330.0,195.06 L331.0,195.48 L332.0,195.89 L333.0,196.31 L334.0,196.72 L335.0,197.13 L336.0,197.54 L337.0,197.95 L338.0,198.36 L339.0,198.77 L340.0,199.18 L341.0,199.59 L342.0,200.00 L343.0,200.40 L344.0,200.81 L345.0,201.21 L346.0,201.62 L347.0,202.02 L348.0,202.42 L349.0,202.82 L350.0,203.23 L351.0,203.63 L352.0,204.03 L353.0,204.42 L354.0,204.82 L355.0,205.22 L356.0,205.62 L357.0,206.01 L358.0,206.41 L359.0,206.80 L360.0,207.20 L361.0,207.59 L362.0,207.98 L363.0,208.37 L364.0,208.76 L365.0,209.15 L366.0,209.54 L367.0,209.93 L368.0,210.32 L369.0,210.71 L370.0,211.09 L371.0,211.48 L372.0,211.87 L373.0,212.25 L374.0,212.63 L375.0,213.02 L376.0,213.40 L377.0,213.78 L378.0,214.16 L379.0,214.54 L380.0,214.92 L381.0,215.30 L382.0,215.68 L383.0,216.05 L384.0,216.43 L385.0,216.81 L386.0,217.18 L387.0,217.56 L388.0,217.93 L389.0,218.30 L390.0,218.68 L391.0,219.05 L392.0,219.42 L393.0,219.79 L394.0,220.16 L395.0,220.53 L396.0,220.90 L397.0,221.27 L398.0,221.63 L399.0,222.00 L400.0,222.36 L401.0,222.73 L402.0,223.09 L403.0,223.46 L404.0,223.82 L405.0,224.18 L406.0,224.55 L407.0,224.91 L408.0,225.27 L409.0,225.63 L410.0,225.99 L411.0,226.34 L412.0,226.70 L413.0,227.06 L414.0,227.42 L415.0,227.77 L416.0,228.13 L417.0,228.48 L418.0,228.83 L419.0,229.19 L420.0,229.54 L421.0,229.89" stroke="#007000" stroke-width="2.3"/>
<path d="M600.0,283.57 L601.0,283.82 L602.0,284.08 L603.0,284.33 L604.0,284.58 L605.0,284.83 L606.0,285.09 L607.0,285.34 L608.0,285.59 L609.0,285.84 L610.0,286.09 L611.0,286.34 L612.0,286.58 L613.0,286.83 L614.0,287.08 L615.0,287.33 L616.0,287.57 L617.0,287.82 L618.0,288.07 L619.0,288.31 L620.0,288.56 L621.0,288.80 L622.0,289.05 L623.0,289.29 L624.0,289.53 L625.0,289.78 L626.0,290.02 L627.0,290.26 L628.0,290.50 L629.0,290.74 L630.0,290.98 L631.0,291.22 L632.0,291.46 L633.0,291.70 L634.0,291.94 L635.0,292.18 L636.0,292.42 L637.0,292.66 L638.0,292.89 L639.0,293.13 L640.0,293.37 L641.0,293.60 L642.0,293.84 L643.0,294.07 L644.0,294.31 L645.0,294.54 L646.0,294.78 L647.0,295.01 L648.0,295.24 L649.0,295.48 L650.0,295.71 L651.0,295.94 L652.0,296.17 L653.0,296.40 L654.0,296.63 L655.0,296.86 L656.0,297.09 L657.0,297.32 L658.0,297.55 L659.0,297.78 L660.0,298.01 L661.0,298.23 L662.0,298.46 L663.0,298.69 L664.0,298.91 L665.0,299.14 L666.0,299.37 L667.0,299.59 L668.0,299.82 L669.0,300.04 L670.0,300.27 L671.0,300.49 L672.0,300.71 L673.0,300.93 L674.0,301.16 L675.0,301.38 L676.0,301.60 L677.0,301.82 L678.0,302.04 L679.0,302.26 L680.0,302.48 L681.0,302.70 L682.0,302.92 L683.0,303.14 L684.0,303.36 L685.0,303.58 L686.0,303.80 L687.0,304.01 L688.0,304.23 L689.0,304.45 L690.0,304.66 L691.0,304.88 L692.0,305.09 L693.0,305.31 L694.0,305.52 L695.0,305.74 L696.0,305.95 L697.0,306.16 L698.0,306.38 L699.0,306.59 L700.0,306.80 L701.0,307.02 L702.0,307.23 L703.0,307.44 L704.0,307.65 L705.0,307.86 L706.0,308.07 L707.0,308.28 L708.0,308.49 L709.0,308.70 L710.0,308.91 L711.0,309.11 L712.0,309.32 L713.0,309.53 L714.0,309.74 L715.0,309.94 L716.0,310.15 L717.0,310.36 L718.0,310.56 L719.0,310.77 L720.0,310.97 L721.0,311.18 L722.0,311.38 L723.0,311.58 L724.0,311.79 L725.0,311.99 L726.0,312.19 L727.0,312.40 L728.0,312.60 L729.0,312.80 L730.0,313.00 L731.0,313.20 L732.0,313.40 L733.0,313.60 L734.0,313.80 L735.0,314.00 L736.0,314.20 L737.0,314.40 L738.0,314.60 L739.0,314.80 L740.0,314.99 L741.0,315.19 L742.0,315.39 L743.0,315.58 L744.0,315.78 L745.0,315.98 L746.0,316.17 L747.0,316.37 L748.0,316.56 L749.0,316.76 L750.0,316.95 L751.0,317.15 L752.0,317.34 L753.0,317.53 L754.0,317.73 L755.0,317.92 L756.0,318.11 L757.0,318.30 L758.0,318.49 L759.0,318.69 L760.0,318.88 L761.0,319.07 L762.0,319.26 L763.0,319.45 L764.0,319.64 L765.0,319.83 L766.0,320.01 L767.0,320.20 L768.0,320.39 L769.0,320.58 L770.0,320.77 L771.0,320.95 L772.0,321.14 L773.0,321.33 L774.0,321.51 L775.0,321.70 L776.0,321.88 L777.0,322.07 L778.0,322.25 L779.0,322.44 L780.0,322.62 L781.0,322.81 L782.0,322.99 L783.0,323.17 L784.0,323.36 L785.0,323.54 L786.0,323.72 L787.0,323.90 L788.0,324.08 L789.0,324.27 L790.0,324.45 L791.0,324.63 L792.0,324.81 L793.0,324.99 L794.0,325.17 L795.0,325.35 L796.0,325.53 L797.0,325.71 L798.0,325.88 L799.0,326.06 L800.0,326.24 L801.0,326.42 L802.0,326.59 L803.0,326.77 L804.0,326.95 L805.0,327.12 L806.0,327.30 L807.0,327.48 L808.0,327.65 L809.0,327.83 L810.0,328.00 L811.0,328.18 L812.0,328.35 L813.0,328.52 L814.0,328.70 L815.0,328.87 L816.0,329.04 L817.0,329.22 L818.0,329.39 L819.0,329.56 L820.0,329.73 L821.0,329.90 L822.0,330.07 L823.0,330.24 L824.0,330.41 L825.0,330.58 L826.0,330.75 L827.0,330.92 L828.0,331.09 L829.0,331.26 L830.0,331.43 L831.0,331.60 L832.0,331.77 L833.0,331.94 L834.0,332.10 L835.0,332.27 L836.0,332.44 L837.0,332.60 L838.0,332.77 L839.0,332.94 L840.0,333.10 L841.0,333.27 L842.0,333.43 L843.0,333.60 L844.0,333.76 L845.0,333.93 L846.0,334.09 L847.0,334.25 L848.0,334.42 L849.0,334.58 L850.0,334.74 L851.0,334.91 L852.0,335.07 L853.0,335.23 L854.0,335.39 L855.0,335.55 L856.0,335.71 L857.0,335.87 L858.0,336.04 L859.0,336.20 L860.0,336.36 L861.0,336.52 L862.0,336.67 L863.0,336.83 L864.0,336.99 L865.0,337.15 L866.0,337.31 L867.0,337.47 L868.0,337.63 L869.0,337.78 L870.0,337.94 L871.0,338.10 L872.0,338.25 L873.0,338.41 L874.0,338.57 L875.0,338.72 L876.0,338.88 L877.0,339.03 L878.0,339.19 L879.0,339.34 L880.0,339.50 L881.0,339.65 L882.0,339.81 L883.0,339.96 L884.0,340.11 L885.0,340.27 L886.0,340.42 L887.0,340.57 L888.0,340.72 L889.0,340.88 L890.0,341.03 L891.0,341.18 L892.0,341.33 L893.0,341.48 L894.0,341.63 L895.0,341.78 L896.0,341.93 L897.0,342.08 L898.0,342.23 L899.0,342.38 L900.0,342.53 L901.0,342.68 L902.0,342.83 L903.0,342.98 L904.0,343.13 L905.0,343.27 L906.0,343.42 L907.0,343.57 L908.0,343.72 L909.0,343.86 L910.0,344.01 L911.0,344.16 L912.0,344.30 L913.0,344.45 L914.0,344.59 L915.0,344.74 L916.0,344.88 L917.0,345.03 L918.0,345.17 L919.0,345.32 L920.0,345.46 L921.0,345.61 L922.0,345.75 L923.0,345.89 L924.0,346.04 L925.0,346.18 L926.0,346.32 L927.0,346.46 L928.0,346.61 L929.0,346.75 L930.0,346.89 L931.0,347.03 L932.0,347.17 L933.0,347.31 L934.0,347.45 L935.0,347.59 L936.0,347.73 L937.0,347.87 L938.0,348.01 L939.0,348.15 L940.0,348.29 L941.0,348.43 L942.0,348.57" stroke="#007000" stroke-width="2.3"/>
<path d="M600.0,284.02 L601.0,284.27 L602.0,284.53 L603.0,284.78 L604.0,285.03 L605.0,285.28 L606.0,285.54 L607.0,285.79 L608.0,286.04 L609.0,286.29 L610.0,286.54 L611.0,286.79 L612.0,287.03 L613.0,287.28 L614.0,287.53 L615.0,287.78 L616.0,288.02 L617.0,288.27 L618.0,288.52 L619.0,288.76 L620.0,289.01 L621.0,289.25 L622.0,289.50 L623.0,289.74 L624.0,289.98 L625.0,290.23 L626.0,290.47 L627.0,290.71 L628.0,290.95 L629.0,291.19 L630.0,291.43 L631.0,291.67 L632.0,291.91 L633.0,292.15 L634.0,292.39 L635.0,292.63 L636.0,292.87 L637.0,293.11 L638.0,293.34 L639.0,293.58 L640.0,293.82 L641.0,294.05 L642.0,294.29 L643.0,294.52 L644.0,294.76 L645.0,294.99 L646.0,295.23 L647.0,295.46 L648.0,295.69 L649.0,295.93 L650.0,296.16 L651.0,296.39 L652.0,296.62 L653.0,296.85 L654.0,297.08 L655.0,297.31 L656.0,297.54 L657.0,297.77 L658.0,298.00 L659.0,298.23 L660.0,298.46 L661.0,298.68 L662.0,298.91 L663.0,299.14 L664.0,299.36 L665.0,299.59 L666.0,299.82 L667.0,300.04 L668.0,300.27 L669.0,300.49 L670.0,300.72 L671.0,300.94 L672.0,301.16 L673.0,301.38 L674.0,301.61 L675.0,301.83 L676.0,302.05 L677.0,302.27 L678.0,302.49 L679.0,302.71 L680.0,302.93 L681.0,303.15 L682.0,303.37 L683.0,303.59 L684.0,303.81 L685.0,304.03 L686.0,304.25 L687.0,304.46 L688.0,304.68 L689.0,304.90 L690.0,305.11 L691.0,305.33 L692.0,305.54 L693.0,305.76 L694.0,305.97 L695.0,306.19 L696.0,306.40 L697.0,306.61 L698.0,306.83 L699.0,307.04 L700.0,307.25" stroke="#4040e0" stroke-width="2"/>
<path d="M421.0,229.89 L422.0,230.24 L423.0,230.59 L424.0,230.94 L425.0,231.29 L426.0,231.64 L427.0,231.99 L428.0,232.34 L429.0,232.68 L430.0,233.03 L431.0,233.38 L432.0,233.72 L433.0,234.06 L434.0,234.41 L435.0,234.75 L436.0,235.09 L437.0,235.44 L438.0,235.78 L439.0,236.12 L440.0,236.46 L441.0,236.80 L442.0,237.13 L443.0,237.47 L444.0,237.81 L445.0,238.15 L446.0,238.48 L447.0,238.82 L448.0,239.15 L449.0,239.49 L450.0,239.82 L451.0,240.15 L452.0,240.49 L453.0,240.82 L454.0,241.15 L455.0,241.48 L456.0,241.81 L457.0,242.14 L458.0,242.47 L459.0,242.80 L460.0,243.12 L461.0,243.45 L462.0,243.78 L463.0,244.10 L464.0,244.43 L465.0,244.75 L466.0,245.08 L467.0,245.40 L468.0,245.72 L469.0,246.05 L470.0,246.37 L471.0,246.69 L472.0,247.01 L473.0,247.33 L474.0,247.65 L475.0,247.97 L476.0,248.28 L477.0,248.60 L478.0,248.92 L479.0,249.24 L480.0,249.55 L481.0,249.87 L482.0,250.18 L483.0,250.50 L484.0,250.81 L485.0,251.12 L486.0,251.43 L487.0,251.75 L488.0,252.06 L489.0,252.37 L490.0,252.68 L491.0,252.99 L492.0,253.30 L493.0,253.61 L494.0,253.91 L495.0,254.22 L496.0,254.53 L497.0,254.83 L498.0,255.14 L499.0,255.44 L500.0,255.75 L501.0,256.05 L502.0,256.36 L503.0,256.66 L504.0,256.96 L505.0,257.26 L506.0,257.56 L507.0,257.86 L508.0,258.16 L509.0,258.46 L510.0,258.76 L511.0,259.06 L512.0,259.36 L513.0,259.66 L514.0,259.95 L515.0,260.25 L516.0,260.55 L517.0,260.84 L518.0,261.14 L519.0,261.43 L520.0,261.72 L521.0,262.02 L522.0,262.31 L523.0,262.60 L524.0,262.89 L525.0,263.18 L526.0,263.47 L527.0,263.76 L528.0,264.05 L529.0,264.34 L530.0,264.63 L531.0,264.92 L532.0,265.21 L533.0,265.49 L534.0,265.78 L535.0,266.07 L536.0,266.35 L537.0,266.64 L538.0,266.92 L539.0,267.20 L540.0,267.49 L541.0,267.77 L542.0,268.05 L543.0,268.33 L544.0,268.61 L545.0,268.89 L546.0,269.17 L547.0,269.45 L548.0,269.73 L549.0,270.01 L550.0,270.29 L551.0,270.57 L552.0,270.84 L553.0,271.12 L554.0,271.40 L555.0,271.67 L556.0,271.95 L557.0,272.22 L558.0,272.50 L559.0,272.77 L560.0,273.04 L561.0,273.32 L562.0,273.59 L563.0,273.86 L564.0,274.13 L565.0,274.40 L566.0,274.67 L567.0,274.94 L568.0,275.21 L569.0,275.48 L570.0,275.75 L571.0,276.01 L572.0,276.28 L573.0,276.55 L574.0,276.81 L575.0,277.08 L576.0,277.35 L577.0,277.61 L578.0,277.87 L579.0,278.14 L580.0,278.40 L581.0,278.66 L582.0,278.93 L583.0,279.19 L584.0,279.45 L585.0,279.71 L586.0,279.97 L587.0,280.23 L588.0,280.49 L589.0,280.75 L590.0,281.01 L591.0,281.27 L592.0,281.53 L593.0,281.78 L594.0,282.04 L595.0,282.30 L596.0,282.55 L597.0,282.81 L598.0,283.06 L599.0,283.32 L600.0,283.57 L601.0,283.82 L602.0,284.08 L603.0,284.33 L604.0,284.58" stroke="#902000" stroke-width="2.3"/>
<path d="M73.0,57.81 L74.0,58.48 L75.0,59.15 L76.0,59.82 L77.0,60.49 L78.0,61.16 L79.0,61.83 L80.0,62.49 L81.0,63.16 L82.0,63.82 L83.0,64.48 L84.0,65.14 L85.0,65.80 L86.0,66.46 L87.0,67.12 L88.0,67.78 L89.0,68.43 L90.0,69.08 L91.0,69.73 L92.0,70.39 L93.0,71.04 L94.0,71.68 L95.0,72.33 L96.0,72.98 L97.0,73.62 L98.0,74.26 L99.0,74.91 L100.0,75.55 L101.0,76.19 L102.0,76.83 L103.0,77.46 L104.0,78.10 L105.0,78.73 L106.0,79.37 L107.0,80.00 L108.0,80.63 L109.0,81.26 L110.0,81.89 L111.0,82.52 L112.0,83.15 L113.0,83.77 L114.0,84.39 L115.0,85.02 L116.0,85.64 L117.0,86.26 L118.0,86.88 L119.0,87.50 L120.0,88.12 L121.0,88.73 L122.0,89.35 L123.0,89.96 L124.0,90.57 L125.0,91.18 L126.0,91.79 L127.0,92.40 L128.0,93.01 L129.0,93.62 L130.0,94.22 L131.0,94.83 L132.0,95.43 L133.0,96.03 L134.0,96.63 L135.0,97.23 L136.0,97.83 L137.0,98.43 L138.0,99.03 L139.0,99.62 L140.0,100.22 L141.0,100.81 L142.0,101.40 L143.0,101.99 L144.0,102.58 L145.0,103.17 L146.0,103.76 L147.0,104.34 L148.0,104.93 L149.0,105.51 L150.0,106.10 L151.0,106.68 L152.0,107.26 L153.0,107.84 L154.0,108.42 L155.0,108.99 L156.0,109.57 L157.0,110.15 L158.0,110.72 L159.0,111.29 L160.0,111.87 L161.0,112.44 L162.0,113.01 L163.0,113.58 L164.0,114.14 L165.0,114.71 L166.0,115.28 L167.0,115.84 L168.0,116.40 L169.0,116.97 L170.0,117.53 L171.0,118.09 L172.0,118.65 L173.0,119.21 L174.0,119.76 L175.0,120.32 L176.0,120.87 L177.0,121.43 L178.0,121.98 L179.0,122.53 L180.0,123.09 L181.0,123.63 L182.0,124.18 L183.0,124.73 L184.0,125.28 L185.0,125.82 L186.0,126.37 L187.0,126.91 L188.0,127.46 L189.0,128.00 L190.0,128.54 L191.0,129.08 L192.0,129.62 L193.0,130.15 L194.0,130.69 L195.0,131.23 L196.0,131.76 L197.0,132.29 L198.0,132.83 L199.0,133.36 L200.0,133.89 L201.0,134.42 L202.0,134.95 L203.0,135.48 L204.0,136.00 L205.0,136.53 L206.0,137.05 L207.0,137.58 L208.0,138.10 L209.0,138.62 L210.0,139.14 L211.0,139.66 L212.0,140.18 L213.0,140.70 L214.0,141.21 L215.0,141.73 L216.0,142.25 L217.0,142.76 L218.0,143.27 L219.0,143.78 L220.0,144.30 L221.0,144.81 L222.0,145.31 L223.0,145.82 L224.0,146.33 L225.0,146.84 L226.0,147.34 L227.0,147.85 L228.0,148.35 L229.0,148.85 L230.0,149.35 L231.0,149.85 L232.0,150.35 L233.0,150.85 L234.0,151.35 L235.0,151.85 L236.0,152.34 L237.0,152.84 L238.0,153.33 L239.0,153.83 L240.0,154.32 L241.0,154.81 L242.0,155.30 L243.0,155.79 L244.0,156.28 L245.0,156.76 L246.0,157.25 L247.0,157.74 L248.0,158.22 L249.0,158.71 L250.0,159.19 L251.0,159.67 L252.0,160.15 L253.0,160.63 L254.0,161.11 L255.0,161.59 L256.0,162.07 L257.0,162.55 L258.0,163.02 L259.0,163.50 L260.0,163.97 L261.0,164.44 L262.0,164.92 L263.0,165.39 L264.0,165.86 L265.0,166.33 L266.0,166.80 L267.0,167.27 L268.0,167.73 L269.0,168.20 L270.0,168.66 L271.0,169.13 L272.0,169.59 L273.0,170.06 L274.0,170.52 L275.0,170.98 L276.0,171.44 L277.0,171.90 L278.0,172.36 L279.0,172.81 L280.0,173.27 L281.0,173.73 L282.0,174.18 L283.0,174.64 L284.0,175.09 L285.0,175.54 L286.0,175.99 L287.0,176.45 L288.0,176.90 L289.0,177.34 L290.0,177.79 L291.0,178.24 L292.0,178.69 L293.0,179.13 L294.0,179.58 L295.0,180.02 L296.0,180.47 L297.0,180.91 L298.0,181.35 L299.0,181.79 L300.0,182.23 L301.0,182.67 L302.0,183.11 L303.0,183.55 L304.0,183.98 L305.0,184.42 L306.0,184.85 L307.0,185.29 L308.0,185.72 L309.0,186.16 L310.0,186.59 L311.0,187.02 L312.0,187.45 L313.0,187.88 L314.0,188.31 L315.0,188.74 L316.0,189.16 L317.0,189.59 L318.0,190.01 L319.0,190.44 L320.0,190.86 L321.0,191.29 L322.0,191.71 L323.0,192.13 L324.0,192.55 L325.0,192.97 L326.0,193.39 L327.0,193.81 L328.0,194.23 L329.0,194.64 L330.0,195.06 L331.0,195.48 L332.0,195.89 L333.0,196.31 L334.0,196.72 L335.0,197.13 L336.0,197.54 L337.0,197.95 L338.0,198.36 L339.0,198.77 L340.0,199.18 L341.0,199.59 L342.0,200.00 L343.0,200.40 L344.0,200.81 L345.0,201.21 L346.0,201.62 L347.0,202.02 L348.0,202.42 L349.0,202.82 L350.0,203.23 L351.0,203.63 L352.0,204.03 L353.0,204.42 L354.0,204.82 L355.0,205.22 L356.0,205.62 L357.0,206.01 L358.0,206.41 L359.0,206.80 L360.0,207.20 L361.0,207.59 L362.0,207.98 L363.0,208.37 L364.0,208.76 L365.0,209.15 L366.0,209.54 L367.0,209.93 L368.0,210.32 L369.0,210.71 L370.0,211.09 L371.0,211.48 L372.0,211.87 L373.0,212.25 L374.0,212.63 L375.0,213.02 L376.0,213.40 L377.0,213.78 L378.0,214.16 L379.0,214.54 L380.0,214.92 L381.0,215.30 L382.0,215.68 L383.0,216.05 L384.0,216.43 L385.0,216.81 L386.0,217.18 L387.0,217.56 L388.0,217.93 L389.0,218.30 L390.0,218.68 L391.0,219.05 L392.0,219.42 L393.0,219.79 L394.0,220.16 L395.0,220.53 L396.0,220.90 L397.0,221.27 L398.0,221.63 L399.0,222.00 L400.0,222.36 L401.0,222.73 L402.0,223.09 L403.0,223.46 L404.0,223.82 L405.0,224.18 L406.0,224.55 L407.0,224.91 L408.0,225.27 L409.0,225.63 L410.0,225.99 L411.0,226.34 L412.0,226.70 L413.0,227.06 L414.0,227.42 L415.0,227.77 L416.0,228.13 L417.0,228.48 L418.0,228.83 L419.0,229.19 L420.0,229.54 L421.0,229.89 L422.0,230.24 L423.0,230.59 L424.0,230.94 L425.0,231.29 L426.0,231.64 L427.0,231.99 L428.0,232.34 L429.0,232.68 L430.0,233.03 L431.0,233.38 L432.0,233.72 L433.0,234.06 L434.0,234.41 L435.0,234.75 L436.0,235.09 L437.0,235.44 L438.0,235.78 L439.0,236.12 L440.0,236.46 L441.0,236.80 L442.0,237.13 L443.0,237.47 L444.0,237.81 L445.0,238.15 L446.0,238.48 L447.0,238.82 L448.0,239.15 L449.0,239.49 L450.0,239.82 L451.0,240.15 L452.0,240.49 L453.0,240.82 L454.0,241.15 L455.0,241.48 L456.0,241.81 L457.0,242.14 L458.0,242.47 L459.0,242.80 L460.0,243.12 L461.0,243.45 L462.0,243.78 L463.0,244.10 L464.0,244.43 L465.0,244.75 L466.0,245.08 L467.0,245.40 L468.0,245.72 L469.0,246.05 L470.0,246.37 L471.0,246.69 L472.0,247.01 L473.0,247.33 L474.0,247.65 L475.0,247.97 L476.0,248.28 L477.0,248.60 L478.0,248.92 L479.0,249.24 L480.0,249.55 L481.0,249.87 L482.0,250.18 L483.0,250.50 L484.0,250.81 L485.0,251.12 L486.0,251.43 L487.0,251.75 L488.0,252.06 L489.0,252.37 L490.0,252.68 L491.0,252.99 L492.0,253.30 L493.0,253.61 L494.0,253.91 L495.0,254.22 L496.0,254.53 L497.0,254.83 L498.0,255.14 L499.0,255.44 L500.0,255.75 L501.0,256.05 L502.0,256.36 L503.0,256.66 L504.0,256.96 L505.0,257.26 L506.0,257.56 L507.0,257.86 L508.0,258.16 L509.0,258.46 L510.0,258.76 L511.0,259.06 L512.0,259.36 L513.0,259.66 L514.0,259.95 L515.0,260.25 L516.0,260.55 L517.0,260.84 L518.0,261.14 L519.0,261.43 L520.0,261.72 L521.0,262.02 L522.0,262.31 L523.0,262.60 L524.0,262.89 L525.0,263.18 L526.0,263.47 L527.0,263.76 L528.0,264.05 L529.0,264.34 L530.0,264.63 L531.0,264.92 L532.0,265.21 L533.0,265.49 L534.0,265.78 L535.0,266.07 L536.0,266.35 L537.0,266.64 L538.0,266.92 L539.0,267.20 L540.0,267.49 L541.0,267.77 L542.0,268.05 L543.0,268.33 L544.0,268.61 L545.0,268.89 L546.0,269.17 L547.0,269.45 L548.0,269.73 L549.0,270.01 L550.0,270.29 L551.0,270.57 L552.0,270.84 L553.0,271.12 L554.0,271.40 L555.0,271.67 L556.0,271.95 L557.0,272.22 L558.0,272.50 L559.0,272.77 L560.0,273.04 L561.0,273.32 L562.0,273.59 L563.0,273.86 L564.0,274.13 L565.0,274.40 L566.0,274.67 L567.0,274.94 L568.0,275.21 L569.0,275.48 L570.0,275.75 L571.0,276.01 L572.0,276.28 L573.0,276.55 L574.0,276.81 L575.0,277.08 L576.0,277.35 L577.0,277.61 L578.0,277.87 L579.0,278.14 L580.0,278.40 L581.0,278.66 L582.0,278.93 L583.0,279.19 L584.0,279.45 L585.0,279.71 L586.0,279.97 L587.0,280.23 L588.0,280.49 L589.0,280.75 L590.0,281.01 L591.0,281.27 L592.0,281.53 L593.0,281.78 L594.0,282.04 L595.0,282.30 L596.0,282.55 L597.0,282.81 L598.0,283.06 L599.0,283.32 L600.0,283.57 L601.0,283.82 L602.0,284.08 L603.0,284.33 L604.0,284.58 L605.0,284.83 L606.0,285.09 L607.0,285.34 L608.0,285.59 L609.0,285.84 L610.0,286.09 L611.0,286.34 L612.0,286.58 L613.0,286.83 L614.0,287.08 L615.0,287.33 L616.0,287.57 L617.0,287.82 L618.0,288.07 L619.0,288.31 L620.0,288.56 L621.0,288.80 L622.0,289.05 L623.0,289.29 L624.0,289.53 L625.0,289.78 L626.0,290.02 L627.0,290.26 L628.0,290.50 L629.0,290.74 L630.0,290.98 L631.0,291.22 L632.0,291.46 L633.0,291.70 L634.0,291.94 L635.0,292.18 L636.0,292.42 L637.0,292.66 L638.0,292.89 L639.0,293.13 L640.0,293.37 L641.0,293.60 L642.0,293.84 L643.0,294.07 L644.0,294.31 L645.0,294.54 L646.0,294.78 L647.0,295.01 L648.0,295.24 L649.0,295.48 L650.0,295.71 L651.0,295.94 L652.0,296.17 L653.0,296.40 L654.0,296.63 L655.0,296.86 L656.0,297.09 L657.0,297.32 L658.0,297.55 L659.0,297.78 L660.0,298.01 L661.0,298.23 L662.0,298.46 L663.0,298.69 L664.0,298.91 L665.0,299.14 L666.0,299.37 L667.0,299.59 L668.0,299.82 L669.0,300.04 L670.0,300.27 L671.0,300.49 L672.0,300.71 L673.0,300.93 L674.0,301.16 L675.0,301.38 L676.0,301.60 L677.0,301.82 L678.0,302.04 L679.0,302.26 L680.0,302.48 L681.0,302.70 L682.0,302.92 L683.0,303.14 L684.0,303.36 L685.0,303.58 L686.0,303.80 L687.0,304.01 L688.0,304.23 L689.0,304.45 L690.0,304.66 L691.0,304.88 L692.0,305.09 L693.0,305.31 L694.0,305.52 L695.0,305.74 L696.0,305.95 L697.0,306.16 L698.0,306.38 L699.0,306.59 L700.0,306.80 L701.0,307.02 L702.0,307.23 L703.0,307.44 L704.0,307.65 L705.0,307.86 L706.0,308.07 L707.0,308.28 L708.0,308.49 L709.0,308.70 L710.0,308.91 L711.0,309.11 L712.0,309.32 L713.0,309.53 L714.0,309.74 L715.0,309.94 L716.0,310.15 L717.0,310.36 L718.0,310.56 L719.0,310.77 L720.0,310.97 L721.0,311.18 L722.0,311.38 L723.0,311.58 L724.0,311.79 L725.0,311.99 L726.0,312.19 L727.0,312.40 L728.0,312.60 L729.0,312.80 L730.0,313.00 L731.0,313.20 L732.0,313.40 L733.0,313.60 L734.0,313.80 L735.0,314.00 L736.0,314.20 L737.0,314.40 L738.0,314.60 L739.0,314.80 L740.0,314.99 L741.0,315.19 L742.0,315.39 L743.0,315.58 L744.0,315.78 L745.0,315.98 L746.0,316.17 L747.0,316.37 L748.0,316.56 L749.0,316.76 L750.0,316.95 L751.0,317.15 L752.0,317.34 L753.0,317.53 L754.0,317.73 L755.0,317.92 L756.0,318.11 L757.0,318.30 L758.0,318.49 L759.0,318.69 L760.0,318.88 L761.0,319.07 L762.0,319.26 L763.0,319.45 L764.0,319.64 L765.0,319.83 L766.0,320.01 L767.0,320.20 L768.0,320.39 L769.0,320.58 L770.0,320.77 L771.0,320.95 L772.0,321.14 L773.0,321.33 L774.0,321.51 L775.0,321.70 L776.0,321.88 L777.0,322.07 L778.0,322.25 L779.0,322.44 L780.0,322.62 L781.0,322.81 L782.0,322.99 L783.0,323.17 L784.0,323.36 L785.0,323.54 L786.0,323.72 L787.0,323.90 L788.0,324.08 L789.0,324.27 L790.0,324.45 L791.0,324.63 L792.0,324.81 L793.0,324.99 L794.0,325.17 L795.0,325.35 L796.0,325.53 L797.0,325.71 L798.0,325.88 L799.0,326.06 L800.0,326.24 L801.0,326.42 L802.0,326.59 L803.0,326.77 L804.0,326.95 L805.0,327.12 L806.0,327.30 L807.0,327.48 L808.0,327.65 L809.0,327.83 L810.0,328.00 L811.0,328.18 L812.0,328.35 L813.0,328.52 L814.0,328.70 L815.0,328.87 L816.0,329.04 L817.0,329.22 L818.0,329.39 L819.0,329.56 L820.0,329.73 L821.0,329.90 L822.0,330.07 L823.0,330.24 L824.0,330.41 L825.0,330.58 L826.0,330.75 L827.0,330.92 L828.0,331.09 L829.0,331.26 L830.0,331.43 L831.0,331.60 L832.0,331.77 L833.0,331.94 L834.0,332.10 L835.0,332.27 L836.0,332.44 L837.0,332.60 L838.0,332.77 L839.0,332.94 L840.0,333.10 L841.0,333.27 L842.0,333.43 L843.0,333.60 L844.0,333.76 L845.0,333.93 L846.0,334.09 L847.0,334.25 L848.0,334.42 L849.0,334.58 L850.0,334.74 L851.0,334.91 L852.0,335.07 L853.0,335.23 L854.0,335.39 L855.0,335.55 L856.0,335.71 L857.0,335.87 L858.0,336.04 L859.0,336.20 L860.0,336.36 L861.0,336.52 L862.0,336.67 L863.0,336.83 L864.0,336.99 L865.0,337.15 L866.0,337.31 L867.0,337.47 L868.0,337.63 L869.0,337.78 L870.0,337.94 L871.0,338.10 L872.0,338.25 L873.0,338.41 L874.0,338.57 L875.0,338.72 L876.0,338.88 L877.0,339.03 L878.0,339.19 L879.0,339.34 L880.0,339.50 L881.0,339.65 L882.0,339.81 L883.0,339.96 L884.0,340.11 L885.0,340.27 L886.0,340.42 L887.0,340.57 L888.0,340.72 L889.0,340.88 L890.0,341.03 L891.0,341.18 L892.0,341.33 L893.0,341.48 L894.0,341.63 L895.0,341.78 L896.0,341.93 L897.0,342.08 L898.0,342.23 L899.0,342.38 L900.0,342.53 L901.0,342.68 L902.0,342.83 L903.0,342.98 L904.0,343.13 L905.0,343.27 L906.0,343.42 L907.0,343.57 L908.0,343.72 L909.0,343.86 L910.0,344.01 L911.0,344.16 L912.0,344.30 L913.0,344.45 L914.0,344.59 L915.0,344.74 L916.0,344.88 L917.0,345.03 L918.0,345.17 L919.0,345.32 L920.0,345.46 L921.0,345.61 L922.0,345.75 L923.0,345.89 L924.0,346.04 L925.0,346.18 L926.0,346.32 L927.0,346.46 L928.0,346.61 L929.0,346.75 L930.0,346.89 L931.0,347.03 L932.0,347.17 L933.0,347.31 L934.0,347.45 L935.0,347.59 L936.0,347.73 L937.0,347.87 L938.0,348.01 L939.0,348.15 L940.0,348.29 L941.0,348.43 L942.0,348.57" stroke="#000" stroke-width="1.9"/>
</g>
<rect x="73.5" y="45.5" width="869" height="341" fill="none" stroke="#000" stroke-width="1" shape-rendering="crispEdges"/>
<g stroke="#000" stroke-width="1" shape-rendering="crispEdges"><line x1="73" y1="94.5" x2="78" y2="94.5"/><line x1="938" y1="94.5" x2="943" y2="94.5"/><line x1="73" y1="142.5" x2="78" y2="142.5"/><line x1="938" y1="142.5" x2="943" y2="142.5"/><line x1="73" y1="191.5" x2="78" y2="191.5"/><line x1="938" y1="191.5" x2="943" y2="191.5"/><line x1="73" y1="240.5" x2="78" y2="240.5"/><line x1="938" y1="240.5" x2="943" y2="240.5"/><line x1="73" y1="289.5" x2="78" y2="289.5"/><line x1="938" y1="289.5" x2="943" y2="289.5"/><line x1="73" y1="337.5" x2="78" y2="337.5"/><line x1="938" y1="337.5" x2="943" y2="337.5"/><line x1="189.5" y1="382" x2="189.5" y2="387"/><line x1="189.5" y1="45" x2="189.5" y2="50"/><line x1="305.5" y1="382" x2="305.5" y2="387"/><line x1="305.5" y1="45" x2="305.5" y2="50"/><line x1="421.5" y1="382" x2="421.5" y2="387"/><line x1="421.5" y1="45" x2="421.5" y2="50"/><line x1="536.5" y1="382" x2="536.5" y2="387"/><line x1="536.5" y1="45" x2="536.5" y2="50"/><line x1="652.5" y1="382" x2="652.5" y2="387"/><line x1="652.5" y1="45" x2="652.5" y2="50"/><line x1="768.5" y1="382" x2="768.5" y2="387"/><line x1="768.5" y1="45" x2="768.5" y2="50"/><line x1="884.5" y1="382" x2="884.5" y2="387"/><line x1="884.5" y1="45" x2="884.5" y2="50"/></g>
<rect x="72" y="57" width="1" height="1" fill="#00e000" shape-rendering="crispEdges"/>
<line x1="591.5" y1="44" x2="591.5" y2="386" stroke="#ff0000" stroke-width="1" shape-rendering="crispEdges"/>
<g font-family="Liberation Sans, Arial, sans-serif" font-size="16" fill="#000">
<text x="319.4" y="27" xml:space="preserve" style="white-space:pre"><tspan letter-spacing="0.03">Painannevarasto / Depression storage   </tspan><tspan x="606.4">Iso-Vietonen</tspan></text>
<text x="64" y="49.2" text-anchor="end">4</text><text x="64" y="98.2" text-anchor="end">3.5</text><text x="64" y="146.2" text-anchor="end">3</text><text x="64" y="195.2" text-anchor="end">2.5</text><text x="64" y="244.2" text-anchor="end">2</text><text x="64" y="293.2" text-anchor="end">1.5</text><text x="64" y="341.2" text-anchor="end">1</text><text x="64" y="389.2" text-anchor="end">0.5</text>
<text x="73" y="405" text-anchor="middle">10.12</text><text x="189" y="405" text-anchor="middle">12.12</text><text x="305" y="405" text-anchor="middle">14.12</text><text x="421" y="405" text-anchor="middle">16.12</text><text x="536" y="405" text-anchor="middle">18.12</text><text x="652" y="405" text-anchor="middle">20.12</text><text x="768" y="405" text-anchor="middle">22.12</text><text x="884" y="405" text-anchor="middle">24.12</text>
<text x="507.5" y="427" text-anchor="middle">Päivä / Date</text>
<text x="9" y="446.2" letter-spacing="0.03">2025-12-18 23:09:57 EET</text>
<text transform="translate(16.8,214.5) rotate(-90)" text-anchor="middle" letter-spacing="0.06">Painannevarasto / Depression storage (mm)</text>
<text x="1032" y="56.6" text-anchor="end">meps</text><rect x="1040" y="49" width="42" height="8" fill="#c8c8ff" shape-rendering="crispEdges"/><text x="1032" y="71.6" text-anchor="end">meps-med</text><rect x="1041" y="67" width="41" height="2" fill="#4040e0" shape-rendering="crispEdges"/><text x="1032" y="86.6" text-anchor="end">min-max</text><rect x="1040" y="79" width="42" height="8" fill="#ffff60" shape-rendering="crispEdges"/><text x="1032" y="101.6" text-anchor="end">95%-5%</text><rect x="1040" y="94" width="42" height="8" fill="#a0ff60" shape-rendering="crispEdges"/><text x="1032" y="116.6" text-anchor="end">75%-25%</text><rect x="1040" y="109" width="42" height="8" fill="#00f800" shape-rendering="crispEdges"/><text x="1032" y="131.6" text-anchor="end">mediaani</text><rect x="1041" y="127" width="41" height="2" fill="#007000" shape-rendering="crispEdges"/><text x="1033" y="146.6" text-anchor="end">Har.</text><rect x="1041" y="142" width="41" height="2" fill="#ff8000" shape-rendering="crispEdges"/><text x="1033" y="161.6" text-anchor="end">IL</text><rect x="1041" y="157" width="41" height="2" fill="#ff0000" shape-rendering="crispEdges"/><text x="1033" y="176.6" text-anchor="end">Det.</text><rect x="1041" y="172" width="41" height="2" fill="#000000" shape-rendering="crispEdges"/>
</g>
</svg></body></html>
